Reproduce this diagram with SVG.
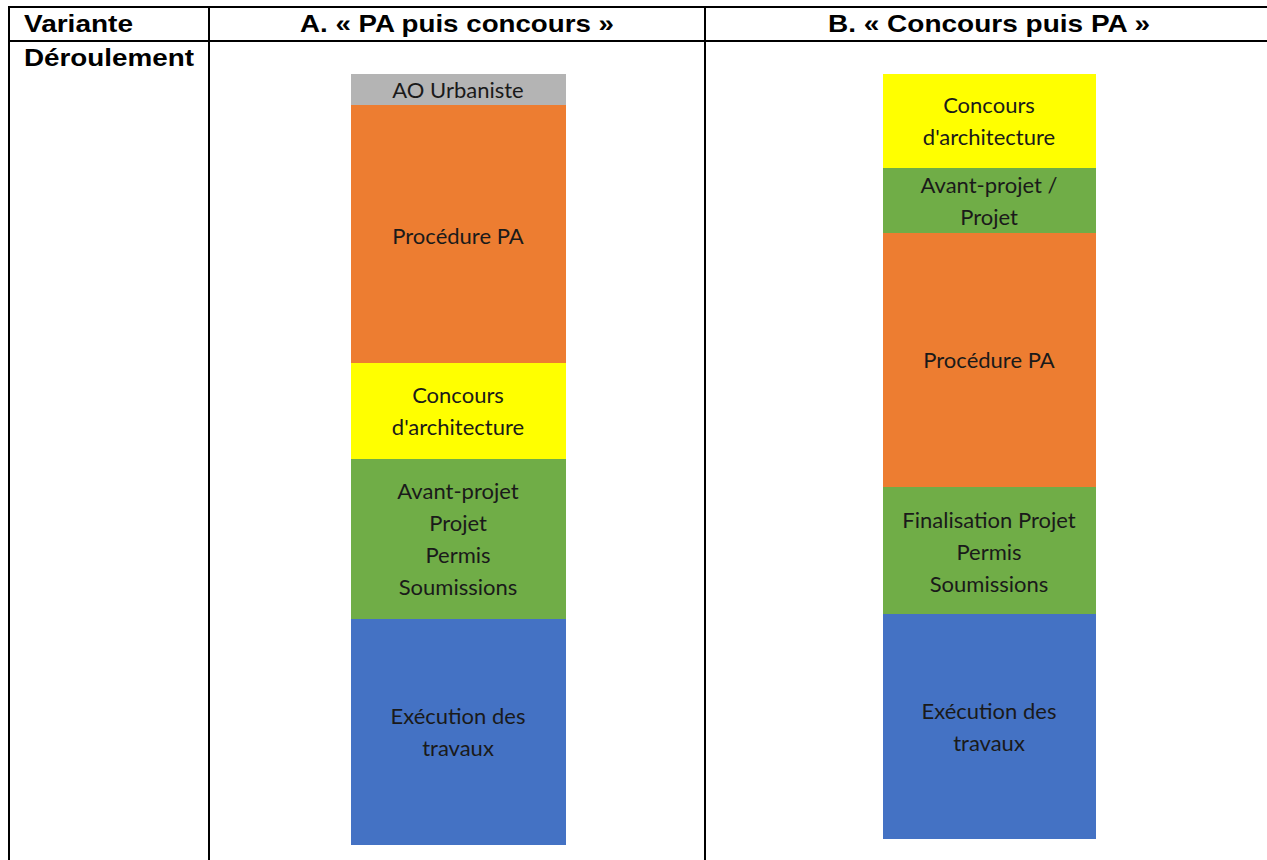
<svg xmlns="http://www.w3.org/2000/svg" width="1267" height="860" viewBox="0 0 1267 860">
  <style>
    .grid { stroke: #000; stroke-width: 2; fill: none; }
    .hdr { font-family: "Liberation Sans", Arial, sans-serif; font-weight: bold; font-size: 24px; fill: #000; }
    .lbl { font-family: Lato, "Open Sans", sans-serif; font-size: 22px; fill: #1a1a1a; text-anchor: middle; }
    .grey { fill: #b4b4b4; }
    .orange { fill: #ed7d31; }
    .yellow { fill: #ffff00; }
    .green { fill: #70ad47; }
    .blue { fill: #4472c4; }
  </style>
  <rect width="1267" height="860" fill="#fff"/>

  <!-- table frame -->
  <g id="table">
    <line class="grid" x1="8" y1="7" x2="1267" y2="7"/>
    <line class="grid" x1="8" y1="41" x2="1267" y2="41"/>
    <line class="grid" x1="9" y1="6" x2="9" y2="860"/>
    <line class="grid" x1="209" y1="6" x2="209" y2="860"/>
    <line class="grid" x1="705" y1="6" x2="705" y2="860"/>
    <text class="hdr" x="24" y="32" textLength="109" lengthAdjust="spacingAndGlyphs">Variante</text>
    <text class="hdr" x="300" y="32" textLength="314" lengthAdjust="spacingAndGlyphs">A. « PA puis concours »</text>
    <text class="hdr" x="828" y="32" textLength="322" lengthAdjust="spacingAndGlyphs">B. « Concours puis PA »</text>
    <text class="hdr" x="24" y="66" textLength="170" lengthAdjust="spacingAndGlyphs">Déroulement</text>
  </g>

  <!-- Variant A -->
  <g id="a-ao">
    <rect class="grey" x="351" y="74" width="215" height="31"/>
    <text class="lbl" x="458" y="98">AO Urbaniste</text>
  </g>
  <g id="a-pa">
    <rect class="orange" x="351" y="105" width="215" height="258"/>
    <text class="lbl" x="458" y="244">Procédure PA</text>
  </g>
  <g id="a-concours">
    <rect class="yellow" x="351" y="363" width="215" height="96"/>
    <text class="lbl" x="458" y="403">Concours</text>
    <text class="lbl" x="458" y="435">d'architecture</text>
  </g>
  <g id="a-projet">
    <rect class="green" x="351" y="459" width="215" height="160"/>
    <text class="lbl" x="458" y="499">Avant-projet</text>
    <text class="lbl" x="458" y="531">Projet</text>
    <text class="lbl" x="458" y="563">Permis</text>
    <text class="lbl" x="458" y="595">Soumissions</text>
  </g>
  <g id="a-travaux">
    <rect class="blue" x="351" y="619" width="215" height="226"/>
    <text class="lbl" x="458" y="724">Exécution des</text>
    <text class="lbl" x="458" y="756">travaux</text>
  </g>

  <!-- Variant B -->
  <g id="b-concours">
    <rect class="yellow" x="883" y="74" width="213" height="94"/>
    <text class="lbl" x="989" y="113">Concours</text>
    <text class="lbl" x="989" y="145">d'architecture</text>
  </g>
  <g id="b-projet">
    <rect class="green" x="883" y="168" width="213" height="65"/>
    <text class="lbl" x="989" y="193">Avant-projet /</text>
    <text class="lbl" x="989" y="225">Projet</text>
  </g>
  <g id="b-pa">
    <rect class="orange" x="883" y="233" width="213" height="254"/>
    <text class="lbl" x="989" y="368">Procédure PA</text>
  </g>
  <g id="b-final">
    <rect class="green" x="883" y="487" width="213" height="127"/>
    <text class="lbl" x="989" y="528">Finalisation Projet</text>
    <text class="lbl" x="989" y="560">Permis</text>
    <text class="lbl" x="989" y="592">Soumissions</text>
  </g>
  <g id="b-travaux">
    <rect class="blue" x="883" y="614" width="213" height="225"/>
    <text class="lbl" x="989" y="719">Exécution des</text>
    <text class="lbl" x="989" y="751">travaux</text>
  </g>

  <g id="connectors"/>
</svg>
